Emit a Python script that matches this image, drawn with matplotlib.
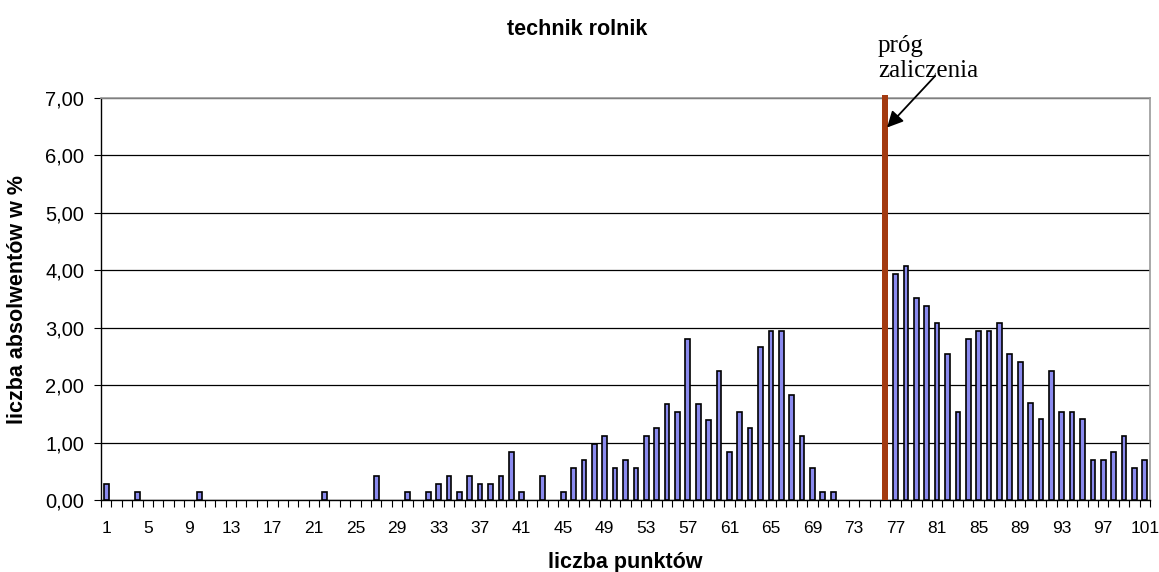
import matplotlib
matplotlib.use("Agg")
import matplotlib.pyplot as plt
import numpy as np
from matplotlib.ticker import FixedLocator, FuncFormatter

# --- data ---
points = list(range(1, 102))
percent = [
    0.28, 0, 0, 0.14, 0, 0, 0, 0, 0, 0.14,          # 1-10
    0, 0, 0, 0, 0, 0, 0, 0, 0, 0,                   # 11-20
    0, 0.14, 0, 0, 0, 0, 0.42, 0, 0, 0.14,          # 21-30
    0, 0.14, 0.28, 0.42, 0.14, 0.42, 0.28, 0.28, 0.42, 0.84,   # 31-40
    0.14, 0, 0.42, 0, 0.14, 0.56, 0.70, 0.98, 1.12, 0.56,      # 41-50
    0.70, 0.56, 1.12, 1.26, 1.68, 1.54, 2.80, 1.68, 1.40, 2.24, # 51-60
    0.84, 1.54, 1.26, 2.66, 2.94, 2.94, 1.82, 1.12, 0.56, 0.14, # 61-70
    0.14, 0, 0, 0, 0, 0.10, 3.94, 4.08, 3.51, 3.37,            # 71-80
    3.09, 2.54, 1.54, 2.81, 2.95, 2.95, 3.09, 2.54, 2.40, 1.69, # 81-90
    1.41, 2.25, 1.54, 1.54, 1.41, 0.70, 0.70, 0.84, 1.12, 0.56, # 91-100
    0.70,                                                      # 101
]
threshold_point = 76
threshold_height = 7.05
tick_labels = list(range(1, 102, 4))
yticks = [0, 1, 2, 3, 4, 5, 6, 7]

W, H = 1159, 572
fig = plt.figure(figsize=(W / 100, H / 100), dpi=100)
ax = fig.add_axes([101 / W, 1 - 500 / H, (1150 - 101) / W, (500 - 98) / H])

edge_widths = [1.2 if v > 0 else 0 for v in percent]
ax.bar(points, percent, width=0.45, color="#8A8AEE", edgecolor="black",
       linewidth=edge_widths, zorder=3)
ax.bar([threshold_point], [threshold_height], width=0.55, color="#A33A10",
       edgecolor="none", zorder=4, clip_on=False)

ax.set_xlim(0.5, 101.5)
ax.set_ylim(0, 7)

ax.set_yticks(yticks)
ax.yaxis.set_major_formatter(FuncFormatter(lambda v, p: f"{v:.2f}".replace(".", ",")))
ax.grid(axis="y", color="black", linewidth=0.9, zorder=1)

ax.set_xticks(tick_labels)
ax.set_xticklabels([str(t) for t in tick_labels])
ax.xaxis.set_minor_locator(FixedLocator(np.arange(0.5, 102, 1)))
ax.tick_params(axis="x", which="major", length=0, pad=15, labelsize=12.5)
ax.tick_params(axis="x", which="minor", length=5, width=0.8, direction="out")
ax.tick_params(axis="y", which="major", length=5, width=0.8, direction="out",
               labelsize=14.5, pad=7)

for s in ["top", "right"]:
    ax.spines[s].set_color("#999999")
    ax.spines[s].set_linewidth(1.2)
for s in ["left", "bottom"]:
    ax.spines[s].set_color("black")
    ax.spines[s].set_linewidth(1.0)

font = "Liberation Sans"
for lab in ax.get_xticklabels() + ax.get_yticklabels():
    lab.set_fontfamily(font)

fig.text(625.5 / W, 1 - 568 / H, "liczba punktów", ha="center", va="baseline",
         fontsize=15.5, fontweight="bold", family=font)
fig.text(18 / W, 1 - 299 / H, "liczba absolwentów w %", ha="center", va="center",
         rotation=90, fontsize=15.5, fontweight="bold", family=font)
fig.text(577 / W, 1 - 35 / H, "technik rolnik", ha="center", va="baseline",
         fontsize=15.5, fontweight="bold", family=font)

ax.annotate("", xy=(threshold_point, 6.45), xytext=(81.0, 7.42),
            arrowprops=dict(arrowstyle="-|>", color="black", lw=1.3,
                            mutation_scale=24), annotation_clip=False, zorder=5)
fig.text(878 / W, 1 - 77 / H, "próg\nzaliczenia", ha="left", va="baseline",
         fontsize=18, family="Liberation Serif", linespacing=1.2)

fig.savefig("out.png", dpi=100)
